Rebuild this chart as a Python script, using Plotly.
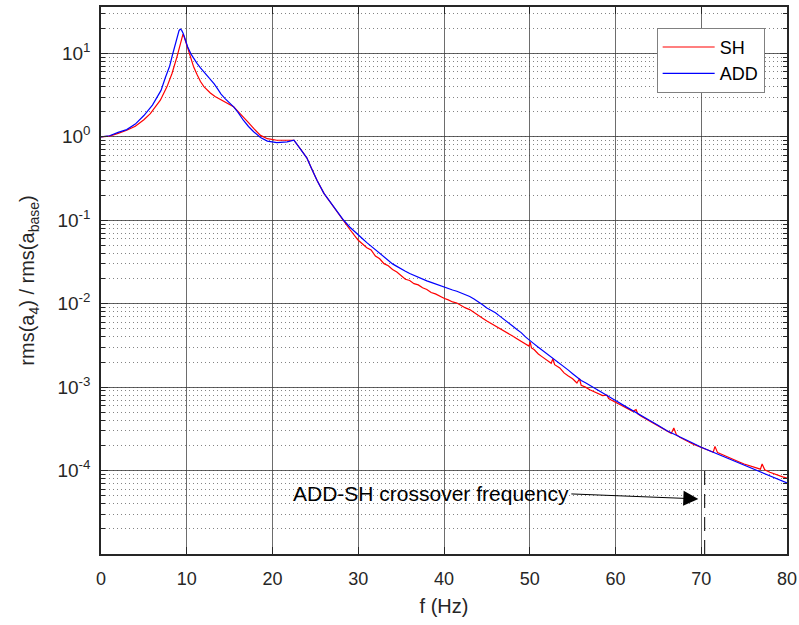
import plotly.graph_objects as go

# ---------------- data ----------------
f_add = [0, 1, 2, 3, 4, 5, 6, 6.5, 7, 7.5, 8, 8.3, 8.6, 8.9, 9.1, 9.25, 9.4, 9.6, 9.8,
         10.1, 10.5, 10.8, 11.2, 11.6, 12.0, 12.4, 12.8, 13.2, 13.6, 14.0, 14.5, 15.0,
         15.5, 16.0, 16.6, 17.2, 17.8, 18.6, 19.4, 20.5, 21.7, 22.5, 23.2, 24.0, 24.5,
         25.2, 26.0, 27.1, 28.3, 29.0,
         30, 30.5, 31, 31.5, 32, 32.5, 33, 33.5, 34, 34.5, 35, 35.5, 36, 36.5, 37, 37.5,
         38, 38.5, 39, 39.5, 40, 40.5, 41, 41.5, 42, 42.5, 43, 43.5, 44, 44.5, 45, 45.5,
         46, 46.5, 47, 47.5, 48, 48.5, 49, 49.5, 50, 50.5, 51, 51.5, 52, 52.5, 53, 53.5,
         54, 54.5, 55, 55.5, 56, 56.5, 57, 57.5, 58, 58.5, 59, 59.5, 60, 61, 62, 63, 64,
         65, 66, 67, 68, 69, 70, 71, 72, 73, 74, 75, 76, 77, 78, 79, 80]
add = [1.0, 1.03, 1.13, 1.22, 1.42, 1.8, 2.4, 2.9, 3.6, 5.1, 7.0, 9.3, 12.3, 16.2, 18.8,
       19.6, 19.0, 17.2, 15.0,
       12.0, 9.8, 8.7, 7.6, 6.7, 6.0, 5.4, 4.8, 4.3, 3.75, 3.25, 2.85, 2.55,
       2.27, 1.95, 1.58, 1.33, 1.15, 0.98, 0.89, 0.85, 0.87, 0.91, 0.73, 0.56, 0.43,
       0.30, 0.21, 0.145, 0.10, 0.083,
       0.066, 0.060, 0.054, 0.049, 0.044, 0.040, 0.036, 0.033, 0.030, 0.028, 0.026,
       0.0245, 0.023, 0.0218, 0.0207, 0.0197,
       0.0188, 0.018, 0.0172, 0.0165, 0.0158, 0.0152, 0.0146, 0.0141, 0.0135, 0.0129,
       0.0122, 0.0114, 0.0106, 0.0097, 0.0089, 0.0083,
       0.0078, 0.0071, 0.0065, 0.006, 0.0054, 0.0049, 0.0045, 0.004, 0.0036, 0.0033,
       0.0030, 0.00275, 0.0025, 0.0023, 0.0021, 0.0019,
       0.00174, 0.0016, 0.00145, 0.00132, 0.0012, 0.00113, 0.00105, 0.00098, 0.00091,
       0.00085, 0.00079, 0.00074, 0.00069, 0.0006, 0.000525, 0.000457, 0.0004,
       0.000347, 0.0003, 0.00027, 0.00024, 0.000214, 0.00019, 0.000172, 0.000156,
       0.000142, 0.000128, 0.000117, 0.000106, 0.000096, 0.000087, 0.000079, 0.000071]

f_sh = [0, 1, 2, 3, 4, 4.58, 5, 5.75, 6.5, 6.92, 7.7, 8.28, 8.86, 9.25, 9.45, 9.56, 9.7,
        10.1, 10.5, 10.8, 11.2, 11.6, 12.0, 12.4, 12.75, 13.3, 13.9, 14.5, 15.0, 15.46,
        16.0, 16.6, 17.2, 17.8, 18.6, 19.4, 20.5, 21.7, 22.5, 23.2, 24.0, 24.5, 25.2,
        26.0, 27.1, 28.3, 29.0,
        30, 30.5, 31, 31.5, 32, 32.5, 33, 33.5, 34, 34.5, 35, 35.5, 36, 36.5, 37, 37.5,
        38, 38.5, 39, 39.5, 40, 40.5, 41, 41.5, 42, 42.5, 43, 43.5, 44, 44.5, 45, 45.5,
        46, 46.5, 47, 47.5, 48, 48.5, 49, 49.5, 49.9, 50.05, 50.2, 50.5, 51, 51.5, 52,
        52.5, 52.7, 52.9, 53.5, 54, 54.5, 55, 55.5, 55.8, 56.0, 56.5, 57, 57.5, 58, 58.5,
        59.0, 59.2, 59.5, 60, 60.5, 61, 61.5, 62, 62.4, 62.6, 63, 63.5, 64, 64.5, 65,
        65.5, 66, 66.5, 66.8, 67.1, 67.5, 68, 68.5, 69, 69.5, 70, 70.5, 71, 71.4, 71.6,
        71.9, 72.5, 73, 73.5, 74, 74.5, 75, 75.5, 76, 76.5, 76.9, 77.1, 77.4, 78, 78.5,
        79, 79.5, 80]
sh = [1.0, 1.02, 1.1, 1.2, 1.34, 1.47, 1.6, 1.9, 2.4, 2.75, 4.0, 5.75, 9.1, 12.6, 15.5,
      17.0, 15.8,
      11.5, 8.6, 6.9, 5.6, 4.6, 4.0, 3.6, 3.35, 3.05, 2.8, 2.6, 2.45, 2.29,
      2.0, 1.74, 1.48, 1.26, 1.04, 0.95, 0.91, 0.91, 0.91, 0.73, 0.56, 0.43, 0.30,
      0.21, 0.145, 0.097, 0.078,
      0.0575, 0.0513, 0.0468, 0.044, 0.0372, 0.0345, 0.0302, 0.0285, 0.0257, 0.024,
      0.0216, 0.0196, 0.019, 0.0174, 0.0168, 0.0155,
      0.0148, 0.0136, 0.0131, 0.0122, 0.0116, 0.0111, 0.0105, 0.0102, 0.0095, 0.0089,
      0.0085, 0.0078, 0.0072, 0.0067, 0.0062, 0.0058,
      0.0054, 0.0050, 0.0047, 0.0044, 0.0041, 0.0038, 0.00355, 0.00327, 0.0031,
      0.00347, 0.00295, 0.00282, 0.0025, 0.00229, 0.00209,
      0.00193, 0.00219, 0.00186, 0.0017, 0.00148, 0.00136, 0.00126, 0.00112, 0.00126,
      0.00105, 0.001, 0.00093, 0.00088, 0.00083, 0.00079,
      0.0008, 0.00073, 0.0007, 0.00066, 0.000624, 0.00059, 0.00055, 0.000513, 0.000537,
      0.000479, 0.000447, 0.000417, 0.000389, 0.000363, 0.000339,
      0.000316, 0.000299, 0.000279, 0.000324, 0.000269, 0.000251, 0.000234, 0.000221,
      0.000209, 0.0002, 0.00019, 0.00018, 0.000174, 0.000166, 0.000195,
      0.000164, 0.000155, 0.000148, 0.000141, 0.000133, 0.000126, 0.00012, 0.000115,
      0.00011, 0.000106, 0.000104, 0.00012, 0.000102, 0.0000955, 0.0000912,
      0.000088, 0.0000841, 0.0000813]

crossover_f = [70.4, 70.4]
crossover_y = [1e-5, 1.26e-4]

x_ticks = [0, 10, 20, 30, 40, 50, 60, 70, 80]
y_ticks = [1e-4, 1e-3, 1e-2, 1e-1, 1e0, 1e1]
y_ticktext = ["10<sup>-4</sup>", "10<sup>-3</sup>", "10<sup>-2</sup>",
              "10<sup>-1</sup>", "10<sup>0</sup>", "10<sup>1</sup>"]

FONT = "Liberation Sans, Arial, sans-serif"
AXC = "#262626"

fig = go.Figure()
fig.add_trace(go.Scatter(x=f_sh, y=sh, mode="lines", name="SH",
                         line=dict(color="#ff0000", width=1.2)))
fig.add_trace(go.Scatter(x=f_add, y=add, mode="lines", name="ADD",
                         line=dict(color="#0000ff", width=1.2)))
fig.add_trace(go.Scatter(x=crossover_f, y=crossover_y, mode="lines", showlegend=False,
                         line=dict(color="black", width=1, dash="14px,9px")))

fig.update_layout(
    width=799, height=625,
    margin=dict(l=101, r=12, t=7, b=71, autoexpand=False),
    paper_bgcolor="white", plot_bgcolor="white",
    font=dict(family=FONT, size=18, color=AXC),
    showlegend=True,
    legend=dict(x=0.81, y=0.962, xanchor="left", yanchor="top",
                bgcolor="white", bordercolor="#808080", borderwidth=1,
                font=dict(size=18, color="black"), tracegroupgap=0,
                itemwidth=52),
    xaxis=dict(range=[0, 80], tickvals=x_ticks, showgrid=True,
               gridcolor="rgba(60,60,60,0.75)", gridwidth=1,
               ticks="inside", ticklen=7, tickcolor=AXC, showline=True,
               linecolor=AXC, linewidth=1.5, mirror="ticks", zeroline=False,
               tickfont=dict(size=18), ticklabelstandoff=8, automargin=False,
               title=dict(text="f (Hz)", font=dict(size=20), standoff=11)),
    yaxis=dict(type="log", range=[-5, 1.556], tickvals=y_ticks, ticktext=y_ticktext,
               showgrid=True, gridcolor="rgba(60,60,60,0.8)", gridwidth=1,
               ticks="inside", ticklen=7, tickcolor=AXC, showline=True,
               linecolor=AXC, linewidth=1.5, mirror="ticks", zeroline=False,
               tickfont=dict(size=19), ticklabelstandoff=5, automargin=False,
               minor=dict(dtick="D1", ticks="inside", ticklen=4, tickcolor=AXC,
                          showgrid=True, gridcolor="rgba(80,80,80,0.7)",
                          griddash="1px,3px", gridwidth=1),
               title=dict(text="rms(a<sub>4</sub>) / rms(a<sub>base</sub>)",
                          font=dict(size=20), standoff=17)),
)

fig.add_annotation(x=69.66, y=-4.34, xref="x", yref="y",
                   ax=54.85, ay=-4.28, axref="x", ayref="y",
                   text="ADD-SH crossover frequency", showarrow=True,
                   xanchor="right", yanchor="middle",
                   font=dict(family=FONT, size=21, color="black"),
                   arrowhead=2, arrowsize=3, arrowwidth=1, arrowcolor="black",
                   standoff=0, startstandoff=0)

fig.write_html("out.html", config={"displayModeBar": False},
               post_script="document.body.style.margin='0px';")
